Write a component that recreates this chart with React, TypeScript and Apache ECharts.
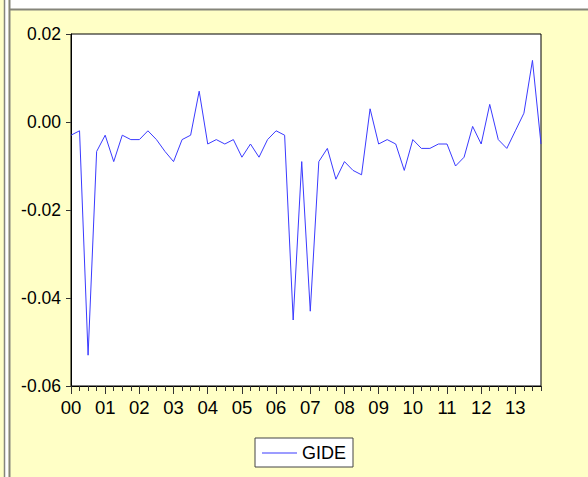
import React, { useEffect, useRef } from "react";
import * as echarts from "echarts";

const years = ["00", "01", "02", "03", "04", "05", "06", "07", "08", "09", "10", "11", "12", "13"];
const quarters = ["Q1", "Q2", "Q3", "Q4"];
const seriesName = "GIDE";
const gide = [
  -0.003, -0.002, -0.053, -0.0067, -0.003, -0.009, -0.003, -0.004,
  -0.004, -0.002, -0.004, -0.0067, -0.009, -0.004, -0.003, 0.007,
  -0.005, -0.004, -0.005, -0.004, -0.008, -0.005, -0.008, -0.004,
  -0.002, -0.003, -0.045, -0.009, -0.043, -0.009, -0.006, -0.013,
  -0.009, -0.011, -0.012, 0.003, -0.005, -0.004, -0.005, -0.011,
  -0.004, -0.006, -0.006, -0.005, -0.005, -0.010, -0.008, -0.001,
  -0.005, 0.004, -0.004, -0.006, -0.002, 0.002, 0.014, -0.005,
];
const yMin = -0.06;
const yMax = 0.02;
const yStep = 0.02;

const categories: string[] = [];
years.forEach((y) => quarters.forEach((q) => categories.push(y + q)));

const FONT = 'Arial, "Liberation Sans", sans-serif';
const BG = "#FFFFC6";
const LINE = "#3a3aff";

export default function App() {
  const ref = useRef<HTMLDivElement>(null);
  useEffect(() => {
    document.body.style.margin = "0";
    const chart = echarts.init(ref.current!, undefined, { renderer: "svg" });
    chart.setOption({
      animation: false,
      backgroundColor: BG,
      textStyle: { fontFamily: FONT },
      graphic: [
        { type: "rect", shape: { x: 5, y: 0, width: 3.5, height: 477 }, style: { fill: "#ffffff" }, silent: true },
        { type: "rect", shape: { x: 10, y: 0, width: 578, height: 9 }, style: { fill: "#ffffff" }, silent: true },
        { type: "line", shape: { x1: 4.5, y1: 0, x2: 4.5, y2: 477 }, style: { stroke: "#85857a", lineWidth: 1.5 }, silent: true },
        { type: "line", shape: { x1: 9.5, y1: 0, x2: 9.5, y2: 477 }, style: { stroke: "#85857a", lineWidth: 2 }, silent: true },
        { type: "line", shape: { x1: 9, y1: 9.5, x2: 588, y2: 9.5 }, style: { stroke: "#85857a", lineWidth: 2 }, silent: true },
      ],
      grid: {
        left: 71,
        top: 34,
        right: 47,
        bottom: 91,
        show: true,
        backgroundColor: "#ffffff",
        borderColor: "#000000",
        borderWidth: 1,
      },
      legend: {
        left: 255,
        top: 438,
        data: [{ name: seriesName, icon: "rect", itemStyle: { color: LINE } }],
        backgroundColor: "#ffffff",
        borderColor: "#444444",
        borderWidth: 1,
        borderRadius: 0,
        padding: [6, 7, 5, 7],
        itemWidth: 35,
        itemHeight: 1,
        itemGap: 5,
        textStyle: { fontSize: 18, color: "#000000", fontFamily: FONT },
      },
      xAxis: [
        {
          type: "category",
          data: categories,
          boundaryGap: false,
          axisLine: { show: true, onZero: false, lineStyle: { color: "#000000", width: 1 } },
          axisTick: { show: true, interval: 0, length: 5, lineStyle: { color: "#333333" } },
          axisLabel: { show: false },
          splitLine: { show: false },
        },
        {
          type: "category",
          data: categories,
          boundaryGap: false,
          position: "bottom",
          axisLine: { show: false, onZero: false },
          axisTick: { show: true, interval: 3, length: 8, lineStyle: { color: "#333333" } },
          axisLabel: {
            show: true,
            interval: 3,
            margin: 12,
            fontSize: 18.5,
            color: "#000000",
            fontFamily: FONT,
            formatter: (v: string) => v.slice(0, 2),
          },
          splitLine: { show: false },
        },
      ],
      yAxis: {
        type: "value",
        min: yMin,
        max: yMax,
        interval: yStep,
        axisLine: { show: true, lineStyle: { color: "#000000" } },
        axisTick: { show: true, length: 5, lineStyle: { color: "#333333" } },
        axisLabel: {
          margin: 10,
          fontSize: 17.5,
          color: "#000000",
          fontFamily: FONT,
          formatter: (v: number) => v.toFixed(2),
        },
        splitLine: { show: false },
      },
      series: [
        {
          name: seriesName,
          type: "line",
          xAxisIndex: 0,
          data: gide,
          symbol: "none",
          showSymbol: false,
          lineStyle: { color: LINE, width: 1 },
          itemStyle: { color: LINE },
        },
      ],
    });
    return () => chart.dispose();
  }, []);
  return (
    <div
      ref={ref}
      style={{ position: "absolute", left: 0, top: 0, width: 588, height: 477, background: BG }}
    />
  );
}
